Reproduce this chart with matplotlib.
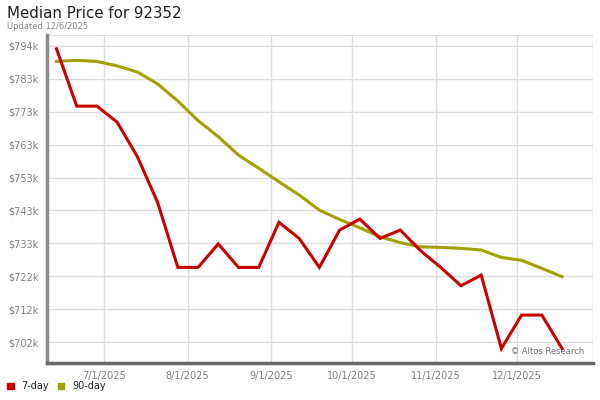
import matplotlib
matplotlib.use("Agg")
import matplotlib.pyplot as plt
import numpy as np

# weekly points ($k)
seven_day = [793.1, 775.3, 775.3, 770.3, 759.6, 745.4, 725.2, 725.2, 732.5, 725.2,
             725.2, 739.2, 734.2, 725.2, 736.8, 740.2, 734.2, 736.8, 730.4, 725.2,
             719.5, 722.8, 700.0, 710.4, 710.4, 700.0]
ninety_day = [789.2, 789.5, 789.2, 787.8, 785.9, 782.2, 776.9, 770.8, 765.8, 760.1,
              756.0, 751.8, 747.7, 743.0, 740.1, 737.5, 734.7, 732.9, 731.6, 731.4,
              731.1, 730.6, 728.3, 727.4, 724.9, 722.3]
month_labels = ["7/1/2025", "8/1/2025", "9/1/2025", "10/1/2025", "11/1/2025", "12/1/2025"]
month_pos = [2.35, 6.48, 10.63, 14.60, 18.76, 22.78]
price_labels = ["$702k", "$712k", "$722k", "$733k", "$743k", "$753k",
                "$763k", "$773k", "$783k", "$794k"]

RED, OLIVE, GRID, TXT = "#c80000", "#a0a000", "#dcdcdc", "#808080"

fig = plt.figure(figsize=(6, 4), dpi=100)
ax = fig.add_axes([0.078, 0.0925, 0.91, 0.82])
x = np.arange(len(seven_day))
ax.plot(x, ninety_day, color=OLIVE, lw=2.2, solid_joinstyle="miter", zorder=3)
ax.plot(x, seven_day, color=RED, lw=2.2, solid_joinstyle="miter", zorder=4)

ax.set_xlim(-0.48, 26.52)
ax.set_ylim(695.5, 797.4)
ax.set_yticks(np.linspace(702, 794, len(price_labels)))
ax.set_yticklabels(price_labels)
ax.set_xticks(month_pos)
ax.set_xticklabels(month_labels)
ax.tick_params(length=0, labelsize=7, colors=TXT, pad=6)
ax.grid(True, color=GRID, lw=1)
ax.axhline(797.4, color=GRID, lw=1)
ax.axvline(26.52, color=GRID, lw=1)
ax.set_axisbelow(True)
for s in ("top", "right"):
    ax.spines[s].set_visible(False)
ax.spines["left"].set_color("#8a8a8a")
ax.spines["left"].set_linewidth(2.5)
ax.spines["bottom"].set_color("#6a6a6a")
ax.spines["bottom"].set_linewidth(2.5)

ax.text(0.985, 0.02, "\u00a9 Altos Research", transform=ax.transAxes, ha="right",
        va="bottom", fontsize=6, color="#707070")

fig.text(0.012, 0.985, "Median Price for 92352", fontsize=10.8, va="top", color="#222222")
fig.text(0.012, 0.945, "Updated 12/6/2025", fontsize=6, va="top", color="#888888")

# legend row at bottom left
fig.patches.append(plt.Rectangle((0.012, 0.027), 0.011, 0.016, color=RED,
                                 transform=fig.transFigure, figure=fig))
fig.text(0.035, 0.035, "7-day", fontsize=7, va="center", color="#222222")
fig.patches.append(plt.Rectangle((0.096, 0.027), 0.011, 0.016, color=OLIVE,
                                 transform=fig.transFigure, figure=fig))
fig.text(0.12, 0.035, "90-day", fontsize=7, va="center", color="#222222")

fig.savefig("out.png", dpi=100)
